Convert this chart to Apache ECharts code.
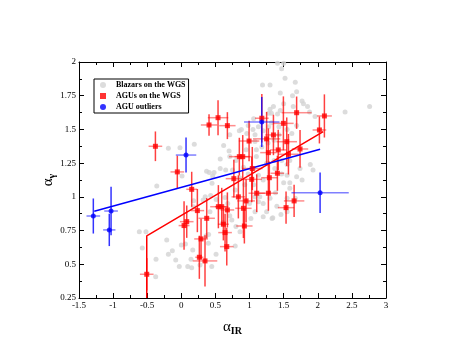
<!DOCTYPE html>
<html>
<head>
<meta charset="utf-8">
<script src="https://cdn.jsdelivr.net/npm/echarts@6/dist/echarts.min.js"></script>
<style>
  html, body { margin: 0; padding: 0; background: #fff; }
  #chart { width: 463px; height: 360px; }
</style>
</head>
<body>
<div id="chart"></div>
<script>
// blazars on the WGS (grey cloud)
const blazarPts = [
  [1.41,1.99],[1.50,1.99],[1.47,1.95],[1.52,1.88],[1.19,1.83],[1.30,1.83],[1.67,1.85],[1.45,1.77],
  [1.69,1.78],[1.63,1.75],[1.77,1.71],[1.50,1.69],[1.35,1.67],[1.30,1.65],[1.32,1.62],[1.45,1.64],
  [1.64,1.67],[1.79,1.69],[1.85,1.67],[1.88,1.63],[1.41,1.615],[1.28,1.62],[1.96,1.595],[2.40,1.63],
  [2.76,1.67],
  [0.88,1.50],[0.98,1.53],[1.06,1.58],[1.13,1.52],[1.28,1.52],[1.32,1.55],[1.43,1.52],[0.96,1.47],
  [1.08,1.46],[1.43,1.46],[1.62,1.47],[1.69,1.53],[0.71,1.46],[0.85,1.49],[1.05,1.50],[1.20,1.49],
  [1.55,1.50],
  [-0.19,1.36],[-0.02,1.365],[0.19,1.39],[0.57,1.28],[0.37,1.19],[0.48,1.18],[0.57,1.21],[0.65,1.20],
  [0.01,1.155],[0.71,1.30],[0.41,1.18],[0.46,1.155],[0.45,1.10],[-0.36,1.08],
  [1.08,1.41],[1.18,1.37],[1.27,1.40],[1.36,1.42],[1.10,1.35],[1.36,1.27],[1.47,1.27],[1.55,1.24],
  [1.59,1.27],[1.89,1.24],[1.93,1.20],[1.74,1.21],[1.47,1.17],[1.37,1.21],[1.55,1.16],[1.50,1.105],
  [1.59,1.105],[1.69,1.15],[1.77,1.125],[0.80,1.27],[0.91,1.22],[0.98,1.17],[1.06,1.21],[1.13,1.16],
  [1.20,1.125],[0.93,1.09],[1.06,1.09],[0.79,1.05],[0.86,1.14],[0.75,1.20],[1.10,1.30],[0.95,1.35],
  [0.70,1.34],[0.62,1.38],[1.25,1.25],
  [1.38,1.03],[1.30,0.99],[1.15,1.00],[1.20,0.95],[1.08,1.00],[1.00,0.95],[1.08,0.89],[1.20,0.853],
  [1.33,0.84],[1.55,0.89],[1.40,0.93],[1.02,0.84],[1.13,0.964],[1.25,0.89],[1.34,0.846],[1.46,0.87],
  [1.55,0.99],[1.59,1.064],[1.67,0.99],[0.35,1.00],[0.43,1.01],[0.18,0.972],[0.51,0.98],[0.64,0.995],
  [0.68,0.95],[0.42,0.89],[0.71,0.86],[0.61,0.81],[0.18,0.927],[0.32,0.977],[0.86,0.742],[0.74,0.829],
  [0.79,0.636],[0.80,0.78],
  [-0.616,0.742],[-0.518,0.742],[-0.572,0.62],[-0.371,0.537],[-0.214,0.68],[-0.376,0.408],[-0.132,0.60],
  [-0.19,0.575],[-0.082,0.532],[-0.03,0.483],[0.0,0.643],[0.142,0.537],[0.152,0.475],[0.094,0.483],
  [0.167,0.606],[0.362,0.712],[0.40,0.72],[0.396,0.656],[0.509,0.575],[0.446,0.483],[0.274,0.495],[0.06,0.65]
];

// AGUs on the WGS: [x, y] and [xErr, yErr]
const aguPts = [
  [-0.38,1.375],[0.406,1.533],[0.538,1.587],[0.675,1.528],[-0.059,1.185],[1.69,1.624],[2.097,1.60],
  [2.024,1.496],[1.496,1.545],[1.18,1.583],[1.35,1.459],[1.545,1.409],[1.25,1.43],[0.993,1.414],
  [1.42,1.348],[1.276,1.328],[1.57,1.316],[0.90,1.298],[0.85,1.298],[1.74,1.355],[1.04,1.21],
  [1.29,1.142],[1.408,1.175],[1.032,1.13],[0.77,1.135],[0.836,1.0],[1.105,1.027],[1.276,1.027],
  [0.949,0.97],[0.91,0.915],[1.653,0.97],[1.535,0.92],[0.675,0.903],[0.616,0.797],[0.641,0.735],
  [0.924,0.784],[0.666,0.631],[0.152,1.056],[0.235,0.898],[0.079,0.816],[0.04,0.787],[0.372,0.841],
  [0.289,0.688],[0.264,0.552],[0.347,0.525],[0.543,0.927],[0.592,0.927],[-0.507,0.426]
];
const aguErr = [
  [0.10,0.11],[0.12,0.08],[0.15,0.13],[0.12,0.10],[0.10,0.12],[0.22,0.12],[0.11,0.16],
  [0.10,0.10],[0.15,0.20],[0.10,0.18],[0.12,0.15],[0.15,0.18],[0.20,0.20],[0.15,0.15],
  [0.12,0.15],[0.12,0.18],[0.15,0.15],[0.12,0.16],[0.15,0.14],[0.12,0.14],[0.15,0.16],
  [0.12,0.12],[0.10,0.13],[0.15,0.17],[0.12,0.14],[0.10,0.16],[0.12,0.14],[0.14,0.13],
  [0.13,0.16],[0.12,0.22],[0.15,0.12],[0.12,0.12],[0.10,0.13],[0.08,0.12],[0.10,0.14],
  [0.12,0.13],[0.10,0.14],[0.08,0.13],[0.10,0.16],[0.10,0.12],[0.08,0.18],[0.12,0.15],
  [0.10,0.15],[0.06,0.16],[0.18,0.19],[0.12,0.16],[0.10,0.14],[0.10,0.12]
];

// AGU outliers
const outlierPts = [[-1.29,0.858],[-1.056,0.755],[-1.03,0.895],[0.069,1.31],[1.179,1.555],[2.034,1.031]];
const outlierErr = [[0.10,0.13],[0.09,0.12],[0.10,0.18],[0.15,0.13],[0.26,0.185],[0.42,0.15]];

// fitted lines
const fitAgu = [[-0.507,0.25],[-0.507,0.71],[2.08,1.483]];
const fitOutlier = [[-1.276,0.893],[2.034,1.353]];

function withErr(pts, err) {
  return pts.map((p, i) => [p[0], p[1], err[i][0], err[i][1]]);
}

function errorBars(hColor, vColor) {
  return function (params, api) {
    const x = api.value(0), y = api.value(1), xe = api.value(2), ye = api.value(3);
    const l = api.coord([x - xe, y]), r = api.coord([x + xe, y]);
    const t = api.coord([x, y + ye]), b = api.coord([x, y - ye]);
    return {
      type: 'group',
      children: [
        { type: 'line', shape: { x1: l[0], y1: l[1], x2: r[0], y2: r[1] }, style: { stroke: hColor, lineWidth: 1.5 } },
        { type: 'line', shape: { x1: t[0], y1: t[1], x2: b[0], y2: b[1] }, style: { stroke: vColor, lineWidth: 1.5 } }
      ]
    };
  };
}

const serif = 'Liberation Serif';
const axisLine = { onZero: false, lineStyle: { color: '#000' } };
const tickStyle = { inside: true, length: 5, lineStyle: { color: '#000' } };
const minorStyle = { show: true, splitNumber: 2, length: 3, lineStyle: { color: '#000' } };
const labelStyle = { fontFamily: serif, fontSize: 9, color: '#000', margin: 3 };

const myChart = echarts.init(document.getElementById('chart'));
const option = {
  animation: false,
  backgroundColor: '#fff',
  grid: { left: 79, right: 77, top: 62, bottom: 62 },
  legend: {
    orient: 'vertical',
    left: 94,
    top: 79,
    padding: [2, 3, 2, 6],
    itemGap: 3,
    itemWidth: 6,
    itemHeight: 6,
    borderColor: '#000',
    borderWidth: 1,
    backgroundColor: '#fff',
    textStyle: { fontFamily: serif, fontWeight: 'bold', fontSize: 8, color: '#000', padding: [0, 0, 0, 5] },
    data: [
      { name: 'Blazars on the WGS', icon: 'circle' },
      { name: 'AGUs on the WGS', icon: 'rect' },
      { name: 'AGU outliers', icon: 'circle' }
    ]
  },
  xAxis: [
    {
      type: 'value', min: -1.5, max: 3, interval: 0.5,
      axisLine: axisLine, axisTick: tickStyle, minorTick: minorStyle,
      splitLine: { show: false },
      axisLabel: labelStyle,
      name: '{a|α}{b|IR}',
      nameLocation: 'middle',
      nameGap: 20,
      nameTextStyle: {
        rich: {
          a: { fontFamily: serif, fontSize: 15, color: '#000' },
          b: { fontFamily: serif, fontSize: 10, fontWeight: 'bold', color: '#000', padding: [8, 0, 0, 0] }
        }
      }
    },
    {
      type: 'value', position: 'top', min: -1.5, max: 3, interval: 0.5,
      axisLine: axisLine, axisTick: tickStyle, minorTick: minorStyle,
      splitLine: { show: false }, axisLabel: { show: false }
    }
  ],
  yAxis: [
    {
      type: 'value', min: 0.25, max: 2, interval: 0.25,
      axisLine: axisLine, axisTick: tickStyle, minorTick: minorStyle,
      splitLine: { show: false },
      axisLabel: labelStyle,
      name: '{a|α}{b|γ}',
      nameLocation: 'middle',
      nameRotate: 90,
      nameGap: 22,
      nameMoveOverlap: false,
      nameTextStyle: {
        rich: {
          a: { fontFamily: serif, fontSize: 15, color: '#000' },
          b: { fontFamily: serif, fontSize: 10, fontWeight: 'bold', color: '#000', padding: [8, 0, 0, 0] }
        }
      }
    },
    {
      type: 'value', position: 'right', min: 0.25, max: 2, interval: 0.25,
      axisLine: axisLine, axisTick: tickStyle, minorTick: minorStyle,
      splitLine: { show: false }, axisLabel: { show: false }
    }
  ],
  series: [
    {
      name: 'Blazars on the WGS', type: 'scatter', symbol: 'circle', symbolSize: 5,
      itemStyle: { color: '#d3d3d3' }, data: blazarPts, z: 1
    },
    {
      name: 'agu err', type: 'custom', clip: true, z: 2,
      renderItem: errorBars('rgba(255,0,0,0.45)', 'rgba(255,0,0,0.75)'),
      data: withErr(aguPts, aguErr)
    },
    {
      name: 'outlier err', type: 'custom', clip: true, z: 2,
      renderItem: errorBars('rgba(0,0,255,0.5)', 'rgba(0,0,255,0.8)'),
      data: withErr(outlierPts, outlierErr)
    },
    {
      name: 'fit agu', type: 'line', data: fitAgu, symbol: 'none', z: 3,
      lineStyle: { color: '#ff0000', width: 1.5 }
    },
    {
      name: 'fit outliers', type: 'line', data: fitOutlier, symbol: 'none', z: 3,
      lineStyle: { color: '#0000ff', width: 1.5 }
    },
    {
      name: 'AGUs on the WGS', type: 'scatter', symbol: 'rect', symbolSize: 5,
      itemStyle: { color: '#ff0000' }, data: aguPts, z: 4
    },
    {
      name: 'AGU outliers', type: 'scatter', symbol: 'circle', symbolSize: 5,
      itemStyle: { color: '#0000ff' }, data: outlierPts, z: 4
    }
  ]
};
myChart.setOption(option);
</script>
</body>
</html>
